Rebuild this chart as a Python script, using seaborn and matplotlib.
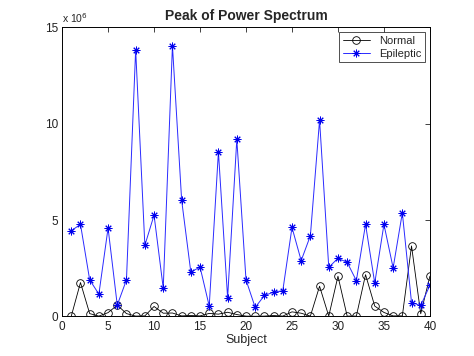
import numpy as np
import pandas as pd
import matplotlib
matplotlib.use("Agg")
import matplotlib.pyplot as plt
import seaborn as sns

# Peak of power spectrum per subject (units of 1e6)
subjects = list(range(1, 41))
normal = [0.02, 1.76, 0.15, 0.02, 0.20, 0.59, 0.15, 0.02, 0.03, 0.52,
          0.17, 0.18, 0.03, 0.05, 0.03, 0.16, 0.12, 0.22, 0.10, 0.02,
          0.01, 0.02, 0.05, 0.02, 0.24, 0.17, 0.02, 1.57, 0.02, 2.09,
          0.02, 0.02, 2.17, 0.54, 0.21, 0.03, 0.03, 3.66, 0.14, 2.09]
epileptic = [4.45, 4.78, 1.90, 1.16, 4.59, 0.59, 1.90, 13.85, 3.69, 5.26,
             1.47, 14.06, 6.04, 2.30, 2.57, 0.54, 8.55, 0.97, 9.19, 1.90,
             0.47, 1.09, 1.26, 1.34, 4.62, 2.90, 4.19, 10.19, 2.55, 3.02,
             2.81, 1.86, 4.78, 1.73, 4.78, 2.52, 5.38, 0.72, 0.57, 1.62]

df = pd.DataFrame({'subject': subjects, 'normal': normal, 'epileptic': epileptic})

sns.set_style("white")
plt.rcParams['font.family'] = ['Liberation Sans', 'DejaVu Sans']
plt.rcParams['xtick.direction'] = 'in'
plt.rcParams['ytick.direction'] = 'in'

fig = plt.figure(figsize=(4.74, 3.56), dpi=100)
ax = fig.add_axes([0.131, 0.111, 0.776, 0.812])

sns.lineplot(x='subject', y='normal', data=df, ax=ax, color='black', lw=0.6,
             marker='o', ms=5.5, mfc='none', mec='black', mew=0.6, label='Normal')
sns.lineplot(x='subject', y='epileptic', data=df, ax=ax, color='#2a2aff', lw=0.7,
             marker=(8, 2, 0), ms=5.5, mec='#0000ee', mew=0.7, label='Epileptic')

ax.set_xlim(0, 40)
ax.set_ylim(0, 15)
ax.set_xticks(range(0, 41, 5))
ax.set_yticks([0, 5, 10, 15])
ax.tick_params(top=True, right=True, labelsize=8.5, colors='#222222',
               length=3.5, width=0.6, pad=3)
for s in ax.spines.values():
    s.set_color('black')
    s.set_linewidth(0.7)

ax.set_xlabel('Subject', fontsize=9, labelpad=1)
ax.set_ylabel('')
ax.set_title('Peak of Power Spectrum', fontsize=10, fontweight='bold', pad=5)
ax.text(0.0, 1.008, 'x 10$^6$', transform=ax.transAxes, fontsize=7.5,
        ha='left', va='bottom')

leg = ax.legend(loc='upper right', fontsize=8, frameon=True, fancybox=False,
                edgecolor='black', borderpad=0.35, handlelength=2.5,
                labelspacing=0.25, borderaxespad=0.4)
leg.get_frame().set_linewidth(0.6)

fig.savefig('out.png', dpi=100)
